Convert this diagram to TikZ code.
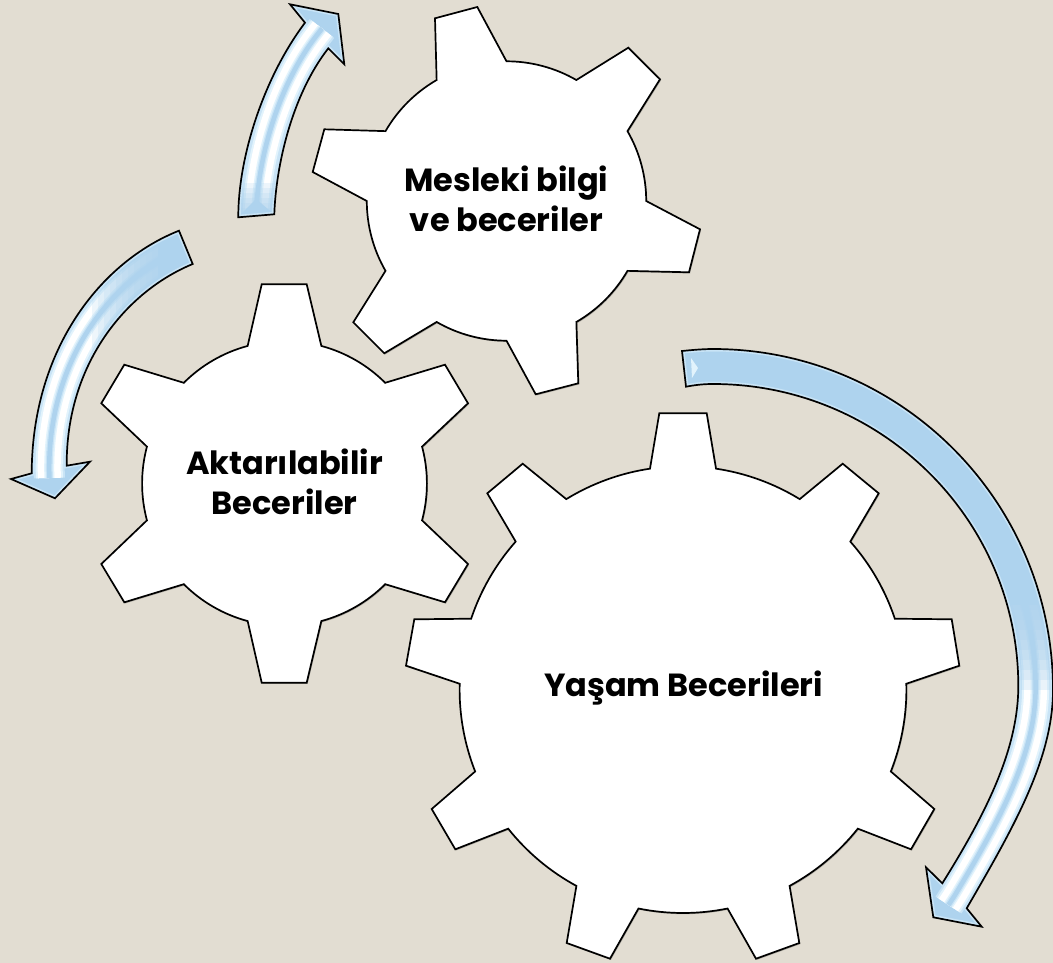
\documentclass[tikz,border=0pt]{standalone}
\usepackage{fontspec}
\setmainfont{Poppins}[BoldFont={Poppins Bold}]
\usetikzlibrary{calc,shadows}
\definecolor{paper}{HTML}{E2DDD2}
\definecolor{baseblue}{HTML}{AED3EE}
\definecolor{paleblue}{HTML}{C9E4F6}
\definecolor{glowblue}{HTML}{E2F3FC}
\newcommand{\garc}[5]{-- ($(#1)+(#2:#4 and #5)$) arc[start angle=#2,end angle=#3,x radius=#4,y radius=#5]}
\newcommand{\gearA}[2]{\garc{c1}{#1}{#2}{139.7}{139.7}}
\newcommand{\gearB}[2]{\garc{c2}{#1}{#2}{142.4}{142.4}}
\newcommand{\gearC}[2]{\garc{c3}{#1}{#2}{223.4}{223.4}}
\newcommand{\upshaft}{(238.3,217.3) .. controls (238,160) and (262,80) .. (305,22.7) -- (290,4.3) -- (338.3,14) -- (344.3,64.3) -- (328.3,48.3) .. controls (292,95) and (276,165) .. (274.3,214.3) -- cycle}
\newcommand{\upmid}{(256.3,215.8) .. controls (257,162) and (277,87) .. (316.6,35.5) -- (322,28.5)}
\newcommand{\leftshaft}{(179,230.7) .. controls (100,262) and (32,350) .. (31.7,473.3) -- (11,479) -- (55,498.3) -- (90,461.7) -- (66.7,465.7) .. controls (66,365) and (125,292) .. (192.7,264) -- cycle}
\newcommand{\leftmid}{(185.8,247.3) .. controls (112.5,277) and (49,357.5) .. (49.2,469.5) -- (49.4,478)}
\newcommand{\bigshaft}{(682,351) .. controls (692,350) and (703,349) .. (713,349) .. controls (901,349) and (1053,502) .. (1053,690) .. controls (1053,760) and (1012,830) .. (966.7,908.3) -- (981.7,926.7) -- (933.3,917.3) -- (926,867.3) -- (942.3,883.3) .. controls (985,815) and (1018.3,750) .. (1018.3,686) .. controls (1018.3,519) and (881,384) .. (713,384) .. controls (703,384) and (695,385) .. (686,386.7) -- cycle}
\newcommand{\bigmid}{(684,369) .. controls (693,367.5) and (703,366.5) .. (713,366.5) .. controls (891,366.5) and (1035.6,510.5) .. (1035.6,688) .. controls (1035.6,755) and (998.5,822.5) .. (954.5,895.8) -- (948.5,905)}
\newcommand{\stripes}[1]{%
  \draw[line width=31pt,draw=paleblue] #1;
  \draw[line width=27pt,draw=glowblue] #1;
  \draw[line width=23pt,draw=white] #1;
  \draw[line width=10pt,draw=glowblue] #1;
  \draw[line width=7pt,draw=paleblue] #1;
  \draw[line width=4.5pt,draw=baseblue] #1;
}
\tikzset{
  gear/.style={draw=black,line width=1.7pt,fill=white,line join=miter,
    drop shadow={shadow xshift=1pt,shadow yshift=-1.2pt,opacity=.22,fill=black}},
  rim/.style={draw=black,line width=1.7pt,line join=miter},
  label/.style={font=\bfseries\fontsize{32}{40}\selectfont,align=center,text=black,inner sep=0pt}
}
\begin{document}
\begin{tikzpicture}[x=1pt,y=-1pt]
\useasboundingbox (0,0) rectangle (1053,963);
\fill[paper] (0,0) rectangle (1053,963);
\coordinate (c1) at (506.5,201);
\coordinate (c2) at (284.5,483.5);
\coordinate (c3) at (683,689.6);

% gears
\path[gear] (477.3,7) \gearA{-90}{-60} -- (628.3,47.7) -- (660,79.3) \gearA{-30}{0} -- (700,229.3) -- (689,272.3) \gearA{30}{60} -- (578.3,383.3) -- (535.7,394.3) \gearA{90}{120} -- (384.3,353.3) -- (353.3,322.3) \gearA{150}{180} -- (312.7,172) -- (324.3,129.3) \gearA{210}{240} -- (435,18.3) -- cycle;
\path[gear] (306.7,284.3) \gearB{-75}{-45} -- (445,364.7) -- (468,403.3) \gearB{-15}{15} -- (468,564) -- (445,602.3) \gearB{45}{75} -- (306.7,682.7) -- (261.7,682.7) \gearB{105}{135} -- (124.3,602.3) -- (101.3,564) \gearB{165}{195} -- (101.3,403.3) -- (124.3,364.7) \gearB{225}{255} -- (261.7,284.3) -- cycle;
\path[gear] (706.7,413.3) \gearC{-81.5}{-58.5} -- (842.7,463.7) -- (878.7,493.3) \gearC{-41.5}{-18.5} -- (951.7,619.3) -- (959.3,665.7) \gearC{-1.5}{21.5} -- (934.3,809) -- (911,849.3) \gearC{38.5}{61.5} -- (799.3,943) -- (756,958.7) \gearC{78.5}{101.5} -- (610,958.7) -- (566.7,943) \gearC{118.5}{141.5} -- (455.3,849.3) -- (431.7,809) \gearC{158.5}{181.5} -- (406,665.7) -- (414.3,619.3) \gearC{198.5}{221.5} -- (487.3,493.3) -- (522.7,463.7) \gearC{238.5}{261.5} -- (659.3,413.3) -- cycle;

% labels
\node[label] (mesleki) at (506.5,199) {Mesleki bilgi\\ve beceriler};
\node[label] (aktar) at (284.5,482) {Aktarılabilir\\Beceriler};
\node[label] (yasam) at (683.5,688) {Yaşam Becerileri};

% arrow up
\begin{scope}
  \clip \upshaft;
  \fill[baseblue] (220,0) rectangle (360,230);
  \stripes{\upmid}
  \foreach \k in {183,188,...,208} {\fill[baseblue,opacity=.22] (220,\k) rectangle (360,230);}
  \fill[baseblue] (238,217) -- (256,199) -- (275,215) -- cycle;
  \draw[paleblue,line width=5pt] \upshaft;
\end{scope}
\draw[rim] \upshaft;

% arrow left
\begin{scope}
  \clip \leftshaft;
  \fill[baseblue] (0,220) rectangle (200,510);
  \stripes{\leftmid}
  \foreach \k in {92,98,...,152} {\fill[baseblue,opacity=.2] (\k,220) rectangle (200,510);}
  \fill[baseblue] (158,220) rectangle (200,510);
  \draw[paleblue,line width=5pt] \leftshaft;
\end{scope}
\draw[rim] \leftshaft;

% arrow big
\begin{scope}
  \clip \bigshaft;
  \fill[baseblue] (670,340) rectangle (1053,940);
  \stripes{\bigmid}
  \foreach \k in {610,620,...,690} {\fill[baseblue,opacity=.25] (670,340) rectangle (1053,\k);}
  \fill[baseblue] (670,340) rectangle (1053,605);
  \fill[glowblue] (691,358) -- (698,368) -- (692,378) -- cycle;
  \draw[paleblue,line width=5pt] \bigshaft;
\end{scope}
\draw[rim] \bigshaft;
\end{tikzpicture}
\end{document}
